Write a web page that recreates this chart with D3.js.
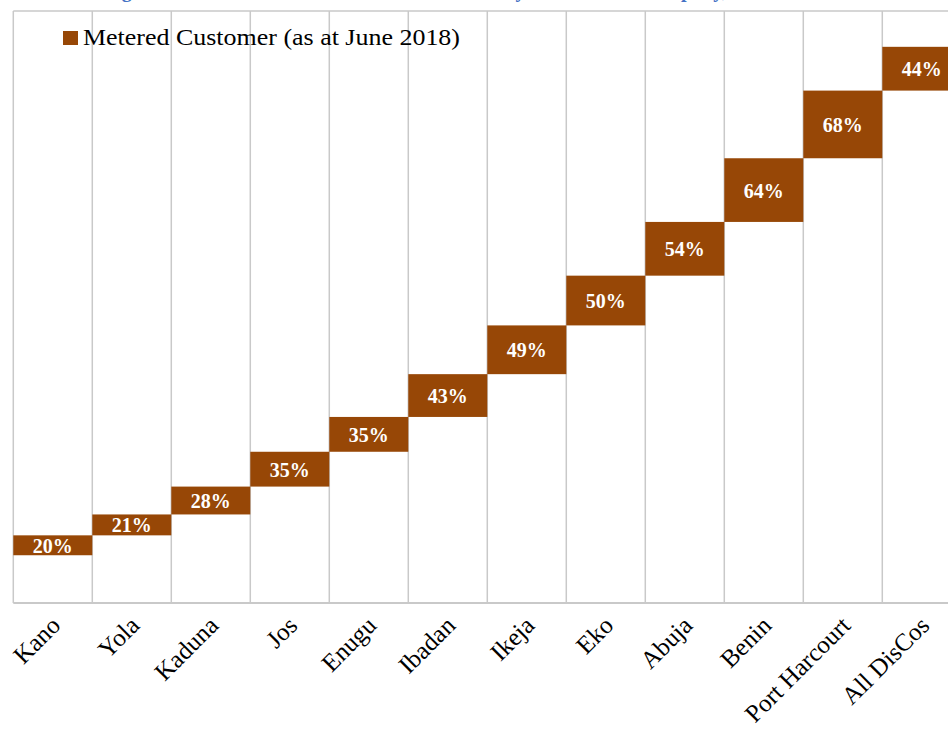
<!DOCTYPE html>
<html>
<head>
<meta charset="utf-8">
<script src="https://cdn.jsdelivr.net/npm/d3@7"></script>
<style>
  html, body { margin: 0; padding: 0; background: #ffffff; overflow: hidden; }
  svg { display: block; }
</style>
</head>
<body>
<svg id="chart" width="948" height="731"></svg>
<script>
// ---- data ----
const categories = ["Kano", "Yola", "Kaduna", "Jos", "Enugu", "Ibadan", "Ikeja", "Eko", "Abuja", "Benin", "Port Harcourt", "All DisCos"];
const values = [20, 21, 28, 35, 35, 43, 49, 50, 54, 64, 68, 44];           // metered customer share (%)
const hiddenBase = [48, 68, 89, 117, 152, 187, 230, 279, 329, 383, 447, 515]; // invisible floating offset of each bar
const seriesName = "Metered Customer (as at June 2018)";
const titleText = "Figure 3: Ratio of Metered to Total Customers by Distribution Company, June 2018";
const yMax = 595;

// ---- layout ----
const W = 948, H = 731;
const plot = { left: 13.3, top: 11, bottom: 603, band: 79 };
const barColor = "#974706";
const gridColor = "#c9c9c9";

const svg = d3.select("#chart");

const x = d3.scaleBand()
  .domain(categories)
  .range([plot.left, plot.left + plot.band * categories.length])
  .paddingInner(0).paddingOuter(0);

const y = d3.scaleLinear().domain([0, yMax]).range([plot.bottom, plot.top]);

// title (mostly clipped above the picture)
svg.append("text")
  .attr("x", 104).attr("y", -3)
  .attr("font-family", "Liberation Serif, serif")
  .attr("font-weight", "bold")
  .attr("font-size", 20)
  .attr("fill", "#4472c4")
  .text(titleText);

// vertical gridlines at category boundaries
const edges = categories.map(c => x(c)).concat([x(categories[categories.length - 1]) + x.bandwidth()]);
svg.append("g").selectAll("line").data(edges).join("line")
  .attr("x1", d => d).attr("x2", d => d)
  .attr("y1", y(yMax)).attr("y2", y(0))
  .attr("stroke", gridColor).attr("stroke-width", 1.5);

// top border
svg.append("line")
  .attr("x1", plot.left).attr("x2", W + 20)
  .attr("y1", y(yMax)).attr("y2", y(yMax))
  .attr("stroke", gridColor).attr("stroke-width", 1.5);

// x axis
const xAxis = d3.axisBottom(x).tickSize(0).tickPadding(0);
const gx = svg.append("g").attr("transform", `translate(0,${y(0)})`).call(xAxis);
gx.select(".domain").attr("stroke", gridColor).attr("stroke-width", 2)
  .attr("d", `M${plot.left},0H${W + 20}`);
gx.selectAll(".tick text")
  .attr("font-family", "Liberation Serif, serif")
  .attr("font-size", 25)
  .attr("fill", "#000")
  .attr("text-anchor", "end")
  .attr("dy", null)
  .attr("y", 0)
  .attr("transform", "translate(9,24) rotate(-45)");

// legend
const lg = svg.append("g");
lg.append("rect").attr("x", 63).attr("y", 31).attr("width", 15).attr("height", 14).attr("fill", barColor);
lg.append("text")
  .attr("x", 83).attr("y", 45)
  .attr("font-family", "Liberation Serif, serif")
  .attr("font-size", 23)
  .attr("fill", "#000")
  .attr("textLength", 377)
  .attr("lengthAdjust", "spacingAndGlyphs")
  .text(seriesName);

// floating bars
const rows = categories.map((c, i) => ({ c, v: values[i], b: hiddenBase[i] }));
svg.append("g").selectAll("rect").data(rows).join("rect")
  .attr("x", d => x(d.c))
  .attr("width", x.bandwidth())
  .attr("y", d => y(d.b + d.v))
  .attr("height", d => y(d.b) - y(d.b + d.v))
  .attr("fill", barColor);

// data labels
svg.append("g").selectAll("text").data(rows).join("text")
  .attr("x", d => x(d.c) + x.bandwidth() / 2)
  .attr("y", d => (y(d.b) + y(d.b + d.v)) / 2 + 7.5)
  .attr("text-anchor", "middle")
  .attr("font-family", "Liberation Serif, serif")
  .attr("font-weight", "bold")
  .attr("font-size", 20)
  .attr("fill", "#ffffff")
  .text(d => d.v + "%");
</script>
</body>
</html>
